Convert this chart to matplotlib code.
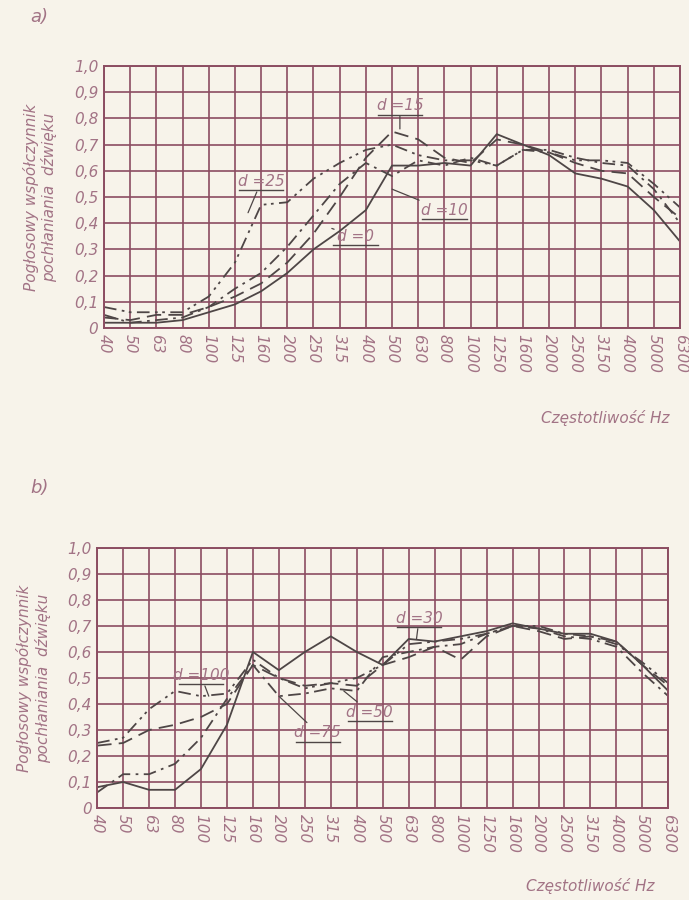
import numpy as np
import matplotlib.pyplot as plt

# Frequencies (Hz) on the x axis of both plots
freqs = ["40", "50", "63", "80", "100", "125", "160", "200", "250", "315", "400", "500",
         "630", "800", "1000", "1250", "1600", "2000", "2500", "3150", "4000", "5000", "6300"]
yticks = ["0", "0,1", "0,2", "0,3", "0,4", "0,5", "0,6", "0,7", "0,8", "0,9", "1,0"]

# a) air gap d = 0, 10, 15, 25
a_d0 = [0.02, 0.02, 0.02, 0.03, 0.06, 0.09, 0.14, 0.21, 0.30, 0.37, 0.45, 0.62,
        0.62, 0.63, 0.62, 0.74, 0.70, 0.66, 0.59, 0.57, 0.54, 0.45, 0.33]
a_d10 = [0.05, 0.02, 0.03, 0.04, 0.08, 0.15, 0.21, 0.31, 0.43, 0.55, 0.63, 0.58,
         0.64, 0.62, 0.65, 0.62, 0.68, 0.68, 0.65, 0.63, 0.62, 0.53, 0.40]
a_d15 = [0.04, 0.03, 0.05, 0.05, 0.08, 0.12, 0.17, 0.25, 0.36, 0.50, 0.65, 0.75,
         0.72, 0.65, 0.63, 0.72, 0.70, 0.67, 0.63, 0.60, 0.59, 0.50, 0.42]
a_d25 = [0.08, 0.06, 0.06, 0.06, 0.12, 0.25, 0.47, 0.48, 0.57, 0.63, 0.68, 0.70,
         0.66, 0.64, 0.64, 0.62, 0.68, 0.67, 0.64, 0.64, 0.63, 0.55, 0.46]

# b) air gap d = 30, 50, 75, 100
b_d30 = [0.08, 0.10, 0.07, 0.07, 0.15, 0.32, 0.60, 0.53, 0.60, 0.66, 0.60, 0.55,
         0.65, 0.64, 0.66, 0.68, 0.71, 0.69, 0.67, 0.67, 0.64, 0.55, 0.45]
b_d50 = [0.24, 0.25, 0.30, 0.32, 0.35, 0.40, 0.55, 0.50, 0.47, 0.48, 0.47, 0.55,
         0.58, 0.62, 0.57, 0.66, 0.70, 0.68, 0.65, 0.66, 0.64, 0.55, 0.47]
b_d75 = [0.06, 0.13, 0.13, 0.17, 0.27, 0.42, 0.55, 0.43, 0.44, 0.46, 0.45, 0.58,
         0.60, 0.62, 0.63, 0.67, 0.70, 0.69, 0.66, 0.65, 0.62, 0.52, 0.43]
b_d100 = [0.25, 0.27, 0.38, 0.45, 0.43, 0.44, 0.57, 0.50, 0.46, 0.48, 0.50, 0.55,
          0.63, 0.64, 0.65, 0.67, 0.70, 0.70, 0.67, 0.66, 0.63, 0.56, 0.48]

bg = "#f7f3ea"
grid_c = "#8c4d62"
txt_c = "#a27385"
line_c = "#4e4646"
font = ["DejaVu Sans"]

fig = plt.figure(figsize=(6.89, 9.0), dpi=100, facecolor=bg)


def setup(ax, xlabel_pos):
    x = np.arange(len(freqs))
    ax.set_facecolor(bg)
    ax.set_xlim(0, len(freqs) - 1)
    ax.set_ylim(0, 1)
    ax.set_xticks(x)
    ax.set_xticklabels(freqs, rotation=-90, fontsize=11, color=txt_c, style="italic")
    ax.set_yticks(np.arange(11) / 10)
    ax.set_yticklabels(yticks, fontsize=11, color=txt_c, style="italic")
    ax.tick_params(length=0, pad=4)
    ax.grid(True, color=grid_c, lw=1.2)
    for s in ax.spines.values():
        s.set_color(grid_c)
        s.set_linewidth(1.4)
    ax.set_axisbelow(True)
    ax.set_ylabel("Pogłosowy współczynnik\npochłaniania  dźwięku", color=txt_c,
                  fontsize=11, style="italic", labelpad=12, linespacing=1.2)
    fig.text(xlabel_pos[0], xlabel_pos[1], "Częstotliwość Hz", color=txt_c,
             fontsize=11, style="italic", ha="center", va="center")
    return x


def label(ax, s, xy, xytext):
    t = ax.annotate(s, xy=xy, xytext=xytext, fontsize=11, style="italic", color=txt_c,
                    ha="center", va="bottom",
                    arrowprops=dict(arrowstyle="-", color=line_c, lw=0.9,
                                    shrinkA=0, shrinkB=0))
    ax.plot([xytext[0] - 0.85, xytext[0] + 0.85], [xytext[1] - 0.005] * 2,
            color=line_c, lw=1.0)
    return t


# --- a) ---
ax1 = fig.add_axes([0.151, 0.6356, 0.836, 0.291])
x = setup(ax1, (0.878, 0.536))
ax1.plot(x, a_d0, color=line_c, lw=1.3, ls="-")
ax1.plot(x, a_d10, color=line_c, lw=1.3, ls=(0, (7, 3, 1.5, 3)))
ax1.plot(x, a_d15, color=line_c, lw=1.3, ls=(0, (8, 4)))
ax1.plot(x, a_d25, color=line_c, lw=1.3, ls=(0, (7, 3, 1.5, 2.5, 1.5, 3)))
label(ax1, "d =15", (11.3, 0.76), (11.3, 0.82))
label(ax1, "d =25", (5.5, 0.44), (6.0, 0.53))
label(ax1, "d =0", (8.7, 0.38), (9.6, 0.32))
label(ax1, "d =10", (11.0, 0.53), (13.0, 0.42))
fig.text(0.044, 0.975, "a)", color=txt_c, fontsize=13, style="italic")

# --- b) ---
ax2 = fig.add_axes([0.141, 0.1022, 0.829, 0.289])
x = setup(ax2, (0.856, 0.016))
ax2.plot(x, b_d30, color=line_c, lw=1.3, ls="-")
ax2.plot(x, b_d50, color=line_c, lw=1.3, ls=(0, (8, 4)))
ax2.plot(x, b_d75, color=line_c, lw=1.3, ls=(0, (7, 3, 1.5, 3)))
ax2.plot(x, b_d100, color=line_c, lw=1.3, ls=(0, (7, 3, 1.5, 2.5, 1.5, 3)))
label(ax2, "d =100", (4.3, 0.43), (4.0, 0.48))
label(ax2, "d =75", (7.0, 0.43), (8.5, 0.26))
label(ax2, "d =50", (9.5, 0.45), (10.5, 0.34))
label(ax2, "d =30", (12.3, 0.65), (12.4, 0.70))
fig.text(0.044, 0.452, "b)", color=txt_c, fontsize=13, style="italic")

fig.savefig("out.png", dpi=100, facecolor=bg)
